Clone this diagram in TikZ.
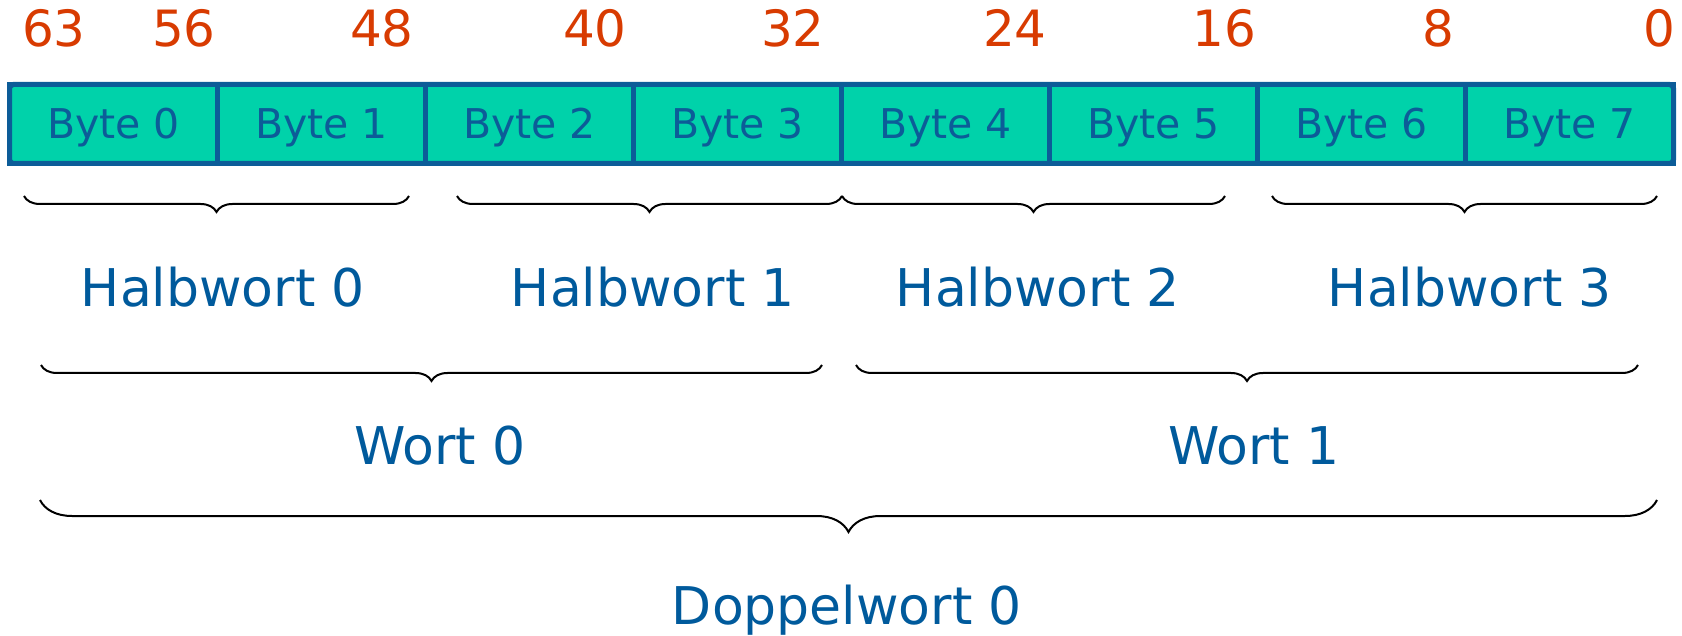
\documentclass[tikz,border=0pt]{standalone}
\usepackage{fontspec}
\setmainfont{DejaVu Sans}
\usetikzlibrary{positioning, decorations.pathreplacing}
\definecolor{bytefill}{RGB}{0, 210, 170}
\definecolor{byteline}{RGB}{12, 92, 152}
\definecolor{labelblue}{RGB}{0, 90, 156}
\definecolor{bitorange}{RGB}{216, 59, 1}

\tikzset{
  bytebox/.style={draw=byteline, fill=bytefill, line width=5pt, minimum width=208pt, minimum height=79pt,
    inner sep=0pt, outer sep=0pt, text=byteline, font=\fontsize{41}{48}\selectfont, text height=30pt, text depth=0pt},
  bitnum/.style={text=bitorange, font=\fontsize{50}{60}\selectfont, text height=37pt, text depth=0pt, inner sep=0pt},
  grouplabel/.style={text=labelblue, font=\fontsize{52}{62}\selectfont, text height=38pt, text depth=0pt, inner sep=0pt},
  smallbrace/.style={decorate, decoration={brace, mirror, amplitude=16pt}, line width=2pt},
  bigbrace/.style={decorate, decoration={brace, mirror, amplitude=32pt}, line width=2pt},
}

\begin{document}
\begin{tikzpicture}[x=1pt, y=-1pt]
\useasboundingbox (0,0) rectangle (1682,636);

% the eight bytes of the doubleword
\node[bytebox] (b0) at (113.5,124) {Byte 0};
\node[bytebox, right=0pt of b0] (b1) {Byte 1};
\node[bytebox, right=0pt of b1] (b2) {Byte 2};
\node[bytebox, right=0pt of b2] (b3) {Byte 3};
\node[bytebox, right=0pt of b3] (b4) {Byte 4};
\node[bytebox, right=0pt of b4] (b5) {Byte 5};
\node[bytebox, right=0pt of b5] (b6) {Byte 6};
\node[bytebox, right=0pt of b6] (b7) {Byte 7};
\draw[byteline, line width=5pt, rounded corners=4pt] (b0.north west) rectangle (b7.south east);

% bit positions
\node[bitnum] (n63) at (54,28.5) {63};
\node[bitnum] (n56) at (184,28.5) {56};
\node[bitnum] (n48) at (382,28.5) {48};
\node[bitnum] (n40) at (595,28.5) {40};
\node[bitnum] (n32) at (793,28.5) {32};
\node[bitnum] (n24) at (1015,28.5) {24};
\node[bitnum] (n16) at (1224,28.5) {16};
\node[bitnum] (n8) at (1438,28.5) {8};
\node[bitnum] (n0) at (1659,28.5) {0};

% halfwords
\draw[smallbrace] (24,196) -- (409,196);
\draw[smallbrace] (457,196) -- (842,196);
\draw[smallbrace] (842,196) -- (1225,196);
\draw[smallbrace] (1272,196) -- (1657,196);
\node[grouplabel] (h0) at (223,288) {Halbwort 0};
\node[grouplabel] (h1) at (653,288) {Halbwort 1};
\node[grouplabel] (h2) at (1038,288) {Halbwort 2};
\node[grouplabel] (h3) at (1470,288) {Halbwort 3};

% words
\draw[smallbrace] (41,365) -- (822,365);
\draw[smallbrace] (856,365) -- (1638,365);
\node[grouplabel] (w0) at (440,445) {Wort 0};
\node[grouplabel] (w1) at (1254,445) {Wort 1};

% doubleword
\draw[bigbrace] (40,500) -- (1657,500);
\node[grouplabel] (d0) at (847,605) {Doppelwort 0};
\end{tikzpicture}
\end{document}
